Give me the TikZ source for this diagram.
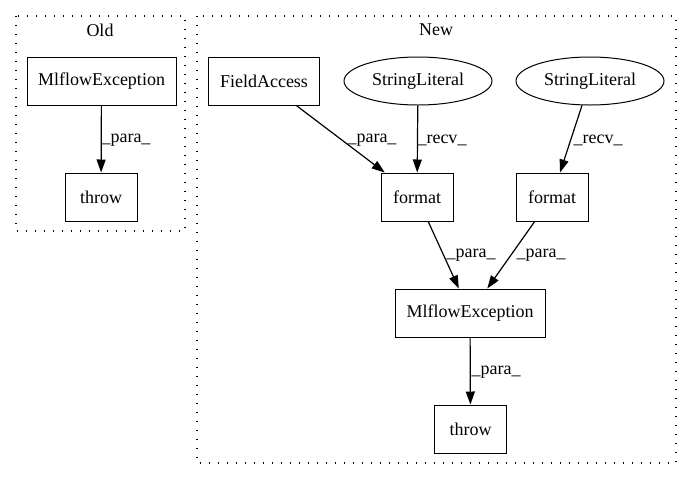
\documentclass[tikz,border=0pt]{standalone}
\usepackage{fontspec}
\setmainfont{Liberation Serif}
\usetikzlibrary{shapes.geometric,arrows.meta,positioning}

\begin{document}
\begin{tikzpicture}[
  x=1pt, y=-1pt,
  n/.style={rectangle, draw, line width=1pt, minimum width=72pt, minimum height=48pt,
            inner sep=0pt, font=\fontsize{18}{20}\selectfont},
  lit/.style={ellipse, draw, line width=1pt, minimum width=148pt, minimum height=48pt,
              inner sep=0pt, font=\fontsize{18}{20}\selectfont},
  arr/.style={-{Triangle[length=13pt,width=9pt]}, line width=1.2pt},
  lbl/.style={inner sep=0pt, font=\fontsize{18}{20}\selectfont},
  grp/.style={draw, line width=1.3pt, dash pattern=on 1.3pt off 7.7pt}
]
  \useasboundingbox (0,0) rectangle (692,480);
  % clusters
  \draw[grp] (16,16) rectangle (185,231);
  \draw[grp] (197,16) rectangle (676,463);
  \node[lbl] (oldlbl) at (100,30) {Old};
  \node[lbl] (newlbl) at (436,30) {New};
  % old
  \node[n, minimum width=149pt] (oldexc) at (101.5,81) {MlflowException};
  \node[n] (oldthrow) at (101,197) {throw};
  % new
  \node[n, minimum width=111pt] (fa) at (264,81) {FieldAccess};
  \node[lit] (slA) at (418,81) {StringLiteral};
  \node[lit] (slB) at (590,81) {StringLiteral};
  \node[n] (fmtA) at (417,197) {format};
  \node[n] (fmtB) at (552,197) {format};
  \node[n, minimum width=150pt] (newexc) at (470,313) {MlflowException};
  \node[n] (newthrow) at (470.5,429) {throw};

  \draw[arr] (oldexc) -- (oldthrow);
  \draw[arr] (fa) -- (fmtA);
  \draw[arr] (slA) -- (fmtA);
  \draw[arr] (slB) -- (fmtB);
  \draw[arr] (fmtA) -- (newexc);
  \draw[arr] (fmtB) -- (newexc);
  \draw[arr] (newexc) -- (newthrow);

  \node[lbl] (l1) at (126,140) {\_para\_};
  \node[lbl] (l2) at (372,140) {\_para\_};
  \node[lbl] (l3) at (442,140) {\_recv\_};
  \node[lbl] (l4) at (598,140) {\_recv\_};
  \node[lbl] (l5) at (471,255) {\_para\_};
  \node[lbl] (l6) at (541,255) {\_para\_};
  \node[lbl] (l7) at (496,372) {\_para\_};
\end{tikzpicture}
\end{document}
